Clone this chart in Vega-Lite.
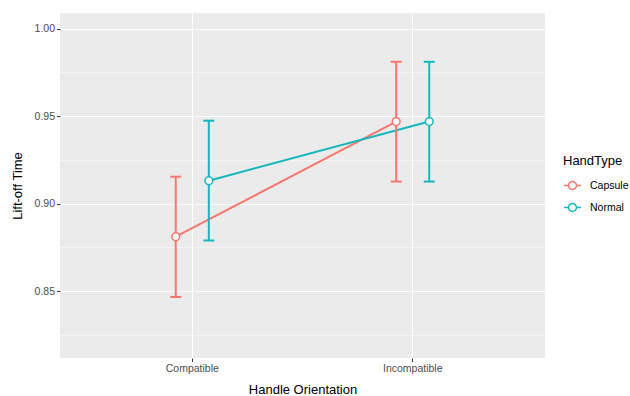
{
  "$schema": "https://vega.github.io/schema/vega-lite/v6.json",
  "width": 485,
  "height": 345,
  "autosize": {"type": "none"},
  "padding": {"left": 60, "top": 13, "right": 85, "bottom": 38},
  "background": "white",
  "config": {
    "view": {"fill": "#EBEBEB", "stroke": null},
    "font": "Liberation Sans",
    "axis": {
      "domain": false,
      "gridColor": "white",
      "tickColor": "#333333",
      "tickSize": 3.5,
      "tickWidth": 1,
      "labelColor": "#4D4D4D",
      "labelFontSize": 10.5,
      "labelFont": "Liberation Sans",
      "titleFont": "Liberation Sans",
      "titleFontSize": 13,
      "titleFontWeight": "normal",
      "titleColor": "black"
    },
    "legend": {"titleFontWeight": "normal", "titleFont": "Liberation Sans", "labelFont": "Liberation Sans"}
  },
  "data": {
    "values": [
      {"HandOrientation": "Compatible", "HandType": "Capsule", "mean": 0.8811, "lower": 0.8466, "upper": 0.9154},
      {"HandOrientation": "Compatible", "HandType": "Normal", "mean": 0.9131, "lower": 0.8789, "upper": 0.9474},
      {"HandOrientation": "Incompatible", "HandType": "Capsule", "mean": 0.9469, "lower": 0.9126, "upper": 0.9811},
      {"HandOrientation": "Incompatible", "HandType": "Normal", "mean": 0.9469, "lower": 0.9126, "upper": 0.9811}
    ]
  },
  "encoding": {
    "x": {
      "field": "HandOrientation",
      "type": "nominal",
      "scale": {"type": "band", "paddingInner": 0.7, "paddingOuter": 0.45},
      "axis": {"title": "Handle Orientation", "labelAngle": 0, "bandPosition": 0.5, "grid": true, "gridWidth": 1.1, "labelPadding": 2, "titlePadding": 9}
    },
    "xOffset": {"field": "HandType", "type": "nominal", "scale": {"paddingInner": 0, "paddingOuter": 0}},
    "color": {
      "field": "HandType",
      "type": "nominal",
      "scale": {"domain": ["Capsule", "Normal"], "range": ["#F8766D", "#14B7BC"]},
      "legend": {
        "title": "HandType",
        "orient": "none",
        "legendX": 503,
        "legendY": 142,
        "titleFontSize": 13,
        "titleFontWeight": "normal",
        "titleColor": "black",
        "titlePadding": 8,
        "labelFontSize": 10.5,
        "labelColor": "black",
        "symbolType": "M-1,0L-0.47,0M0.47,0L1,0M-0.47,0A0.47,0.47,0,1,1,0.47,0A0.47,0.47,0,1,1,-0.47,0Z",
        "symbolSize": 289,
        "symbolStrokeWidth": 1.5,
        "symbolFillColor": "white",
        "rowPadding": 5,
        "labelOffset": 8,
        "encode": {
          "symbols": {
            "update": {
              "fill": {"value": "white"},
              "fillOpacity": {"value": 1},
              "strokeWidth": {"value": 1.5}
            }
          }
        }
      }
    }
  },
  "layer": [
    {
      "mark": {"type": "line", "strokeWidth": 2},
      "encoding": {
        "y": {
          "field": "mean",
          "type": "quantitative",
          "scale": {"domain": [0.8117, 1.009], "nice": false, "zero": false},
          "axis": {
            "title": "Lift-off Time",
            "values": [0.825, 0.85, 0.875, 0.9, 0.925, 0.95, 0.975, 1.0],
            "labelExpr": "round(datum.value*1000) % 50 == 0 ? format(datum.value, '.2f') : ''",
            "format": ".2f",
            "gridWidth": {"condition": {"test": "round(datum.value*1000) % 50 == 0", "value": 1.1}, "value": 0.5},
            "tickOpacity": {"condition": {"test": "round(datum.value*1000) % 50 == 0", "value": 1}, "value": 0},
            "titlePadding": 10,
            "labelPadding": 2
          }
        }
      }
    },
    {
      "mark": {"type": "rule", "strokeWidth": 2},
      "encoding": {
        "y": {"field": "lower", "type": "quantitative"},
        "y2": {"field": "upper"}
      }
    },
    {
      "mark": {"type": "point", "shape": "M-1,0L1,0", "filled": false, "strokeWidth": 2, "size": 121, "opacity": 1},
      "encoding": {"y": {"field": "lower", "type": "quantitative"}}
    },
    {
      "mark": {"type": "point", "shape": "M-1,0L1,0", "filled": false, "strokeWidth": 2, "size": 121, "opacity": 1},
      "encoding": {"y": {"field": "upper", "type": "quantitative"}}
    },
    {
      "mark": {"type": "point", "filled": false, "fill": "white", "fillOpacity": 1, "opacity": 1, "strokeWidth": 1.5, "size": 60},
      "encoding": {"y": {"field": "mean", "type": "quantitative"}}
    }
  ]
}
